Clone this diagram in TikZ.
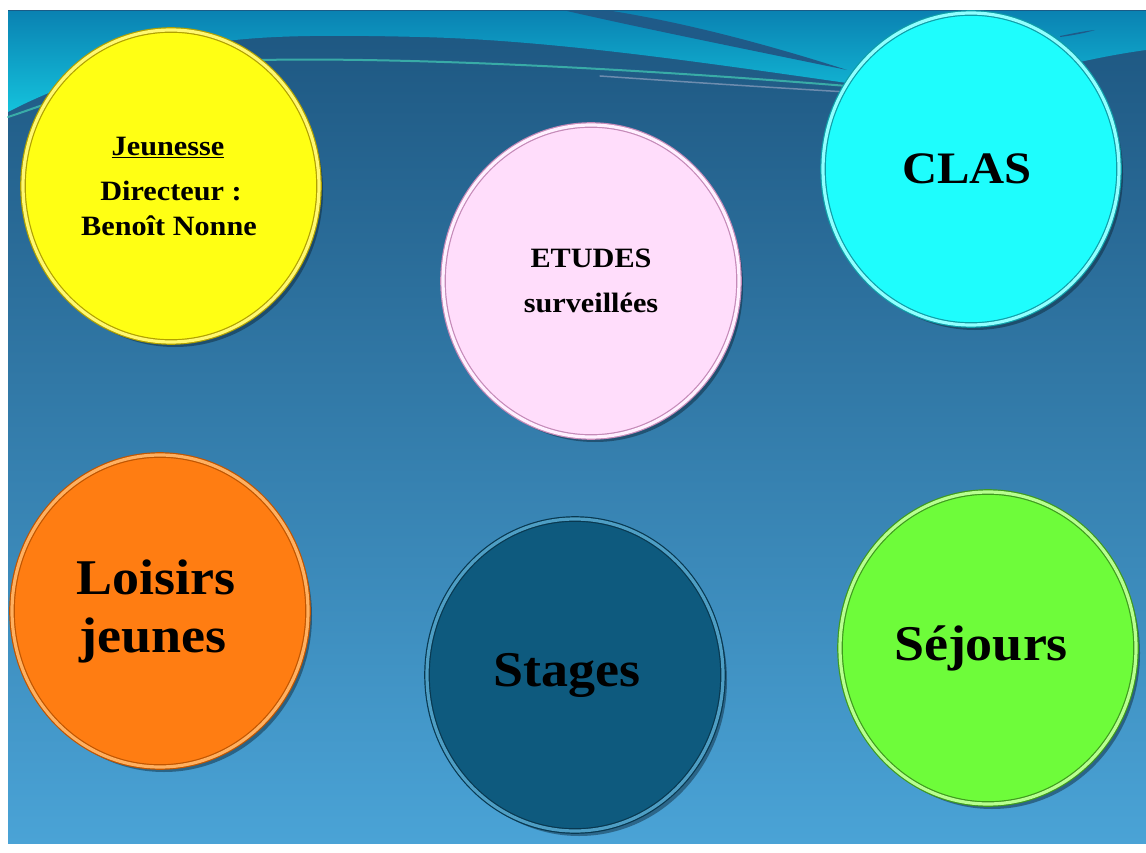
\documentclass[tikz,border=0pt]{standalone}
\usepackage{fontspec}
\setmainfont{Liberation Serif}[FakeStretch=1.08]
\usetikzlibrary{shapes.geometric,shadows}
\definecolor{bgtop}{HTML}{1D5680}
\definecolor{bgbot}{HTML}{4AA3D6}
\definecolor{bandtop}{HTML}{0A82B2}
\definecolor{bandbot}{HTML}{14C2DC}
\definecolor{wedge}{HTML}{1F5A88}
\definecolor{streakA}{HTML}{3FC0B0}
\definecolor{streakB}{HTML}{8098B8}
\definecolor{shadowc}{HTML}{0A2030}
\definecolor{yelF}{HTML}{FFFF14}\definecolor{yelD}{HTML}{B0A000}\definecolor{yelL}{HTML}{FFF870}
\definecolor{pinF}{HTML}{FFDDFB}\definecolor{pinD}{HTML}{C58AB8}\definecolor{pinL}{HTML}{FFF0FF}
\definecolor{cyaF}{HTML}{1EFDFD}\definecolor{cyaD}{HTML}{0E9EA8}\definecolor{cyaL}{HTML}{90FFFF}
\definecolor{oraF}{HTML}{FF7D12}\definecolor{oraD}{HTML}{C05500}\definecolor{oraL}{HTML}{FFB060}
\definecolor{teaF}{HTML}{0E5A7E}\definecolor{teaD}{HTML}{083850}\definecolor{teaL}{HTML}{4E9EC4}
\definecolor{greF}{HTML}{6EFC3A}\definecolor{greD}{HTML}{3E9A1E}\definecolor{greL}{HTML}{B8FF90}
\begin{document}
\begin{tikzpicture}[x=1pt,y=-1pt,
  bubble/.style={ellipse, inner sep=0pt, minimum width=296pt, minimum height=312pt,
    align=center, text=black, line width=1.2pt, double distance=3.2pt,
    drop shadow={shadow xshift=4pt, shadow yshift=-5pt, opacity=0.45, fill=shadowc}},
  yelb/.style={bubble, fill=yelF, draw=yelD, double=yelL},
  pinb/.style={bubble, fill=pinF, draw=pinD, double=pinL},
  cyab/.style={bubble, fill=cyaF, draw=cyaD, double=cyaL},
  orab/.style={bubble, fill=oraF, draw=oraD, double=oraL},
  teab/.style={bubble, fill=teaF, draw=teaD, double=teaL},
  greb/.style={bubble, fill=greF, draw=greD, double=greL},
  big/.style={font=\fontsize{50}{58}\selectfont\bfseries},
  small/.style={font=\fontsize{28}{35}\selectfont\bfseries},
  streak/.style={line width=2pt, line cap=round}
]
\useasboundingbox (0,0) rectangle (1146,853);
\fill[white] (0,0) rectangle (1146,853);
% background
\shade[top color=bgtop, bottom color=bgbot] (8,11) rectangle (1146,843);
% top wave band
\shade[top color=bandtop, bottom color=bandbot]
  (8,11) -- (1146,11) -- (1146,50) .. controls (1110,55) and (1090,60) .. (1070,64)
  -- (847,83) .. controls (700,62) and (550,40) .. (420,37)
  .. controls (300,34) and (230,36) .. (180,50)
  .. controls (100,70) and (40,95) .. (8,112) -- cycle;
% dark wedge at top
\fill[wedge] (567,11) .. controls (650,30) and (760,52) .. (847,70)
  .. controls (760,42) and (680,22) .. (612,11) -- cycle;
\fill[wedge] (1060,36) .. controls (1075,33) and (1085,31) .. (1095,30)
  .. controls (1085,33) and (1075,35) .. (1060,37) -- cycle;
% streaks
\draw[streak, streakA, opacity=0.8] (8,117) .. controls (60,100) and (150,62) .. (260,60)
  .. controls (420,57) and (650,70) .. (847,86);
\draw[streak, streakB, opacity=0.8, line width=1.5pt] (600,76) .. controls (700,83) and (780,88) .. (847,92);
% bubbles
\node[yelb, small] (jeunesse) at (171,186)
  {\underline{Jeunesse}\hspace*{6pt}\\[10pt]Directeur :\hspace*{6pt}\\Benoît Nonne\hspace*{4pt}};
\node[pinb, font=\fontsize{28}{45}\selectfont\bfseries] (etudes) at (591,281)
  {ETUDES\\surveillées};
\node[cyab, font=\fontsize{45}{56}\selectfont\bfseries] (clas) at (971,169) {CLAS\hspace*{8pt}};
\node[orab, big] (loisirs) at (160,611) {Loisirs\hspace*{8pt}\\jeunes\hspace*{14pt}};
\node[teab, big] (stages) at (575,675) {Stages\hspace*{16pt}};
\node[greb, big] (sejours) at (988,648) {Séjours\hspace*{14pt}};
\end{tikzpicture}
\end{document}
